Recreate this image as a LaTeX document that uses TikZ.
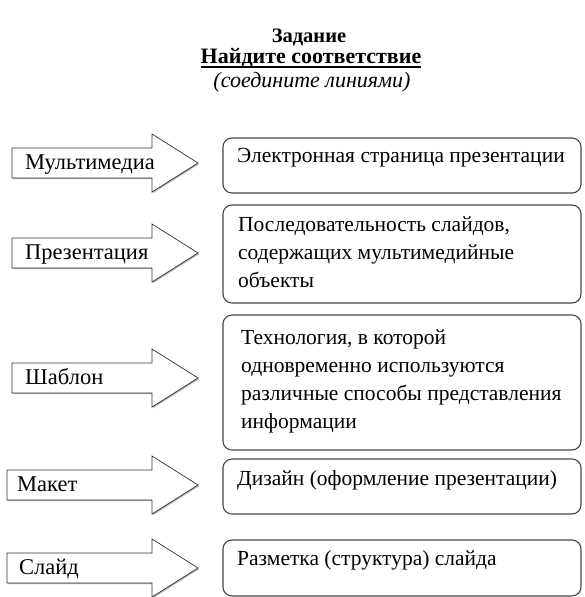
\documentclass[tikz,border=0pt]{standalone}
\usepackage{fontspec}
\setmainfont{Liberation Serif}
\usetikzlibrary{shadows}

\tikzset{
  term/.style={anchor=base west,inner sep=0pt,font=\fontsize{22.5}{27}\selectfont},
  descr/.style={anchor=north west,inner sep=0pt,align=left,font=\fontsize{21.5}{27.8}\selectfont},
  heading/.style={anchor=base,inner sep=0pt,font=\fontsize{21.5}{25}\selectfont},
  answer/.style={draw=gray!55!black,line width=1.1pt,rounded corners=9pt},
  arrowshape/.style={draw=black!80,line width=.7pt,fill=white,
    drop shadow={shadow xshift=1pt,shadow yshift=-1.2pt,fill=gray!60,opacity=1}}
}

\begin{document}
\begin{tikzpicture}[x=1pt,y=-1pt]
\useasboundingbox (0,0) rectangle (585,597);
% title
\node[heading,font=\fontsize{20.5}{24}\selectfont\bfseries] (task) at (309,42) {Задание};
\node[heading,font=\fontsize{22}{25}\selectfont\bfseries] (find) at (311,63) {Найдите соответствие};
\draw[line width=1.6pt] ([yshift=-4pt]find.base west) -- ([yshift=-4pt]find.base east);
\node[heading,font=\fontsize{22}{25}\selectfont\itshape] (hint) at (312,87) {(соедините линиями)};
% left column: terms in arrows
\foreach \name/\lx/\cy/\word/\tx in {mm/12/163/Мультимедиа/25,pr/12/253/Презентация/25,
    sh/12/378/Шаблон/25,mk/7/485/Макет/17,sl/7/568/Слайд/19}{
  \draw[arrowshape] (\lx,\cy-15) -- (152,\cy-15) -- (152,\cy-29) -- (198,\cy)
    -- (152,\cy+29) -- (152,\cy+15) -- (\lx,\cy+15) -- cycle;
  \node[term] (\name) at (\tx,\cy+6) {\word};
}
% right column: definitions
\draw[answer] (223,138) rectangle (581,193);
\draw[answer] (223,205) rectangle (581,303);
\draw[answer] (223,315) rectangle (581,450);
\draw[answer] (223,459) rectangle (581,514);
\draw[answer] (223,540) rectangle (581,596);
\node[descr] (page) at (237,148) {Электронная страница презентации};
\node[descr] (seq) at (238,217) {Последовательность слайдов,\\содержащих мультимедийные\\объекты};
\node[descr] (tech) at (241,330) {Технология, в которой\\одновременно используются\\различные способы представления\\информации};
\node[descr] (design) at (237,470) {Дизайн (оформление презентации)};
\node[descr] (layout) at (237,550) {Разметка (структура) слайда};
\end{tikzpicture}
\end{document}
